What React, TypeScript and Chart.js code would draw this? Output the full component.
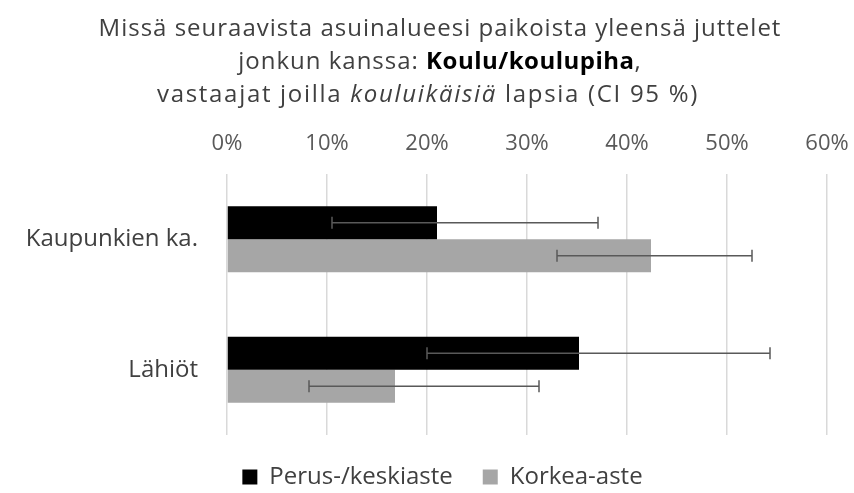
import React, { useEffect, useRef } from "react";
import { Chart, registerables } from "chart.js";

Chart.register(...registerables);

const categories = ["Kaupunkien ka.", "Lähiöt"];
const seriesNames = ["Perus-/keskiaste", "Korkea-aste"];
const perusValues = [21.0, 35.2];
const korkeaValues = [42.4, 16.8];
const perusLow = [10.5, 20.0];
const perusHigh = [37.1, 54.3];
const korkeaLow = [33.0, 8.2];
const korkeaHigh = [52.5, 31.2];
const tickValues = [0, 10, 20, 30, 40, 50, 60];

const FONT = "'Open Sans', Lato, sans-serif";

const errorBarPlugin = {
  id: "errorBars",
  afterDatasetsDraw(chart: any) {
    const ctx = chart.ctx;
    const xScale = chart.scales.x;
    const lows = [perusLow, korkeaLow];
    const highs = [perusHigh, korkeaHigh];
    chart.data.datasets.forEach((_ds: any, di: number) => {
      const meta = chart.getDatasetMeta(di);
      meta.data.forEach((bar: any, i: number) => {
        const y = bar.y;
        const x1 = xScale.getPixelForValue(lows[di][i]);
        const x2 = xScale.getPixelForValue(highs[di][i]);
        ctx.save();
        ctx.strokeStyle = "#595959";
        ctx.lineWidth = 1.5;
        ctx.beginPath();
        ctx.moveTo(x1, y);
        ctx.lineTo(x2, y);
        ctx.moveTo(x1, y - 6);
        ctx.lineTo(x1, y + 6);
        ctx.moveTo(x2, y - 6);
        ctx.lineTo(x2, y + 6);
        ctx.stroke();
        ctx.restore();
      });
    });
  },
};

const legendShiftPlugin = {
  id: "legendShift",
  afterLayout(chart: any) {
    if (chart.legend) {
      chart.legend.left += 29;
      chart.legend.right += 29;
    }
  },
};

export default function App() {
  const ref = useRef<HTMLCanvasElement>(null);
  useEffect(() => {
    document.body.style.margin = "0";
    if (!ref.current) return;
    const chart = new Chart(ref.current, {
      type: "bar",
      data: {
        labels: categories,
        datasets: [
          {
            label: seriesNames[0],
            data: perusValues,
            backgroundColor: "#000000",
            barPercentage: 1,
            categoryPercentage: 0.505,
          },
          {
            label: seriesNames[1],
            data: korkeaValues,
            backgroundColor: "#A6A6A6",
            barPercentage: 1,
            categoryPercentage: 0.505,
          },
        ],
      },
      options: {
        indexAxis: "y",
        animation: false,
        responsive: false,
        layout: { padding: { top: 0, left: 0, right: 27, bottom: -6 } },
        scales: {
          x: {
            position: "top",
            min: 0,
            max: 60,
            afterBuildTicks(scale: any) {
              scale.ticks = tickValues.map((v) => ({ value: v }));
            },
            afterFit(scale: any) {
              scale.height = 174;
              scale.paddingLeft = 0;
              scale.paddingRight = 0;
            },
            grid: { color: "#D9D9D9", lineWidth: 1.5, drawTicks: false },
            border: { display: false },
            ticks: {
              padding: 17,
              color: "#595959",
              font: { family: FONT, size: 22 },
              callback: (v: any) => v + "%",
            },
          },
          y: {
            afterFit(scale: any) {
              scale.width = 227;
            },
            grid: { display: false, drawTicks: false },
            border: { display: false },
            ticks: {
              padding: 29,
              color: "#404040",
              font: { family: FONT, size: 24 },
            },
          },
        },
        plugins: {
          legend: {
            position: "bottom",
            labels: {
              boxWidth: 15,
              boxHeight: 15,
              padding: 30,
              color: "#404040",
              font: { family: FONT, size: 24 },
            },
          },
          title: { display: false },
          tooltip: { enabled: false },
        },
      },
      plugins: [errorBarPlugin, legendShiftPlugin],
    });
    return () => chart.destroy();
  }, []);

  return (
    <div style={{ position: "relative", width: 854, height: 493 }}>
      <canvas ref={ref} width={854} height={493} style={{ display: "block" }} />
      <div
        style={{
          position: "absolute",
          top: 10,
          left: 13,
          width: 854,
          textAlign: "center",
          fontFamily: FONT,
          fontSize: 24,
          letterSpacing: "1px",
          lineHeight: "33px",
          color: "#404040",
          pointerEvents: "none",
        }}
      >
        <div>Missä seuraavista asuinalueesi paikoista yleensä juttelet</div>
        <div>
          jonkun kanssa: <b style={{ color: "#000", letterSpacing: "0.5px" }}>Koulu/koulupiha</b>,
        </div>
        <div style={{ letterSpacing: "1.7px", position: "relative", left: -12 }}>
          vastaajat joilla <i>kouluikäisiä</i> lapsia (CI 95 %)
        </div>
      </div>
    </div>
  );
}
